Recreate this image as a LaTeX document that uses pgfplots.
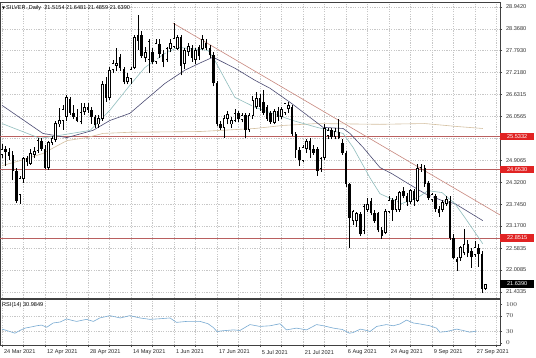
\documentclass[border=0pt]{standalone}
\usepackage{pgfplots}
\pgfplotsset{compat=1.18}
\usepackage{pgfplotstable}
\usepackage{fontspec}
\setmainfont{Liberation Sans}
\newfontfamily\sym{DejaVu Sans}
\definecolor{lvl}{RGB}{185,95,95}
\definecolor{trend}{RGB}{200,135,125}
\definecolor{navyma}{RGB}{75,75,115}
\definecolor{tealma}{RGB}{145,190,190}
\definecolor{tanma}{RGB}{212,192,160}
\definecolor{rsic}{RGB}{120,170,210}
\definecolor{lblred}{RGB}{225,35,35}
\newcommand{\tf}{\fontsize{5.6}{6.2}\selectfont}

\pgfplotstableread{
i o h l c
0 25.05 25.34 24.95 25.20
1 25.20 25.28 24.75 25.12
2 25.12 25.22 24.90 25.02
3 25.05 25.15 24.37 24.63
4 24.63 24.70 23.78 23.84
5 23.98 24.50 23.76 24.42
6 24.42 25.00 24.30 24.95
7 24.95 25.02 24.75 24.85
8 24.82 25.20 24.78 25.10
9 25.05 25.25 24.95 25.14
10 25.16 25.50 25.10 25.42
11 25.42 25.50 25.15 25.21
12 25.21 25.30 24.68 24.71
13 24.71 25.42 24.65 25.37
14 25.37 25.55 25.30 25.48
15 25.45 25.95 25.38 25.87
16 25.85 26.27 25.77 25.95
17 25.95 26.35 25.70 26.25
18 26.05 26.61 25.95 26.56
19 26.53 26.58 26.10 26.16
20 26.16 26.35 25.98 26.05
21 26.05 26.25 25.90 25.95
22 25.92 26.40 25.85 26.17
23 26.17 26.40 26.10 26.30
24 26.30 26.40 26.15 26.22
25 26.22 26.30 25.87 26.03
26 26.05 26.10 25.75 25.82
27 25.85 26.10 25.75 26.00
28 26.00 27.00 25.95 26.90
29 26.90 27.10 26.45 26.55
30 26.55 27.35 26.50 27.28
31 27.28 27.55 27.20 27.45
32 27.40 27.86 27.25 27.46
33 27.62 27.70 27.25 27.33
34 27.30 27.35 26.90 26.96
35 26.96 27.20 26.90 27.10
36 27.05 27.35 26.90 27.30
37 27.35 28.20 27.30 28.15
38 28.20 28.73 27.80 28.05
39 28.20 28.30 27.60 27.66
40 27.60 27.90 27.50 27.75
41 27.55 28.10 27.20 28.05
42 27.75 27.85 27.45 27.50
43 27.50 28.10 27.45 27.98
44 27.98 28.10 27.60 27.70
45 27.70 27.80 27.35 27.50
46 27.55 27.90 27.50 27.85
47 27.85 28.10 27.75 28.00
48 27.90 28.52 27.85 28.12
49 27.85 28.20 27.80 28.15
50 28.15 28.20 27.14 27.40
51 27.45 27.85 27.30 27.80
52 27.75 28.00 27.65 27.90
53 27.85 27.95 27.50 27.60
54 27.55 27.85 27.45 27.80
55 27.90 27.95 27.55 27.65
56 27.85 28.20 27.80 28.10
57 28.00 28.10 27.80 27.85
58 27.85 27.95 27.60 27.67
59 27.67 27.75 26.85 26.93
60 26.93 27.00 25.80 25.87
61 25.87 25.95 25.70 25.75
62 25.77 26.10 25.50 26.00
63 26.00 26.20 25.85 26.12
64 25.85 26.05 25.75 25.95
65 25.95 26.25 25.90 26.15
66 26.15 26.20 25.90 25.98
67 25.98 26.15 25.90 26.08
68 26.10 26.15 25.50 25.70
69 25.70 26.15 25.65 26.10
70 26.08 26.60 26.00 26.48
71 26.30 26.70 26.25 26.55
72 26.55 26.65 26.20 26.30
73 26.45 26.75 26.10 26.15
74 26.30 26.35 25.95 26.00
75 26.15 26.20 25.87 25.90
76 25.90 26.25 25.85 26.20
77 26.20 26.30 25.95 26.05
78 26.05 26.30 26.00 26.25
79 26.15 26.42 26.10 26.40
80 26.25 26.45 26.15 26.35
81 26.30 26.35 25.55 25.60
82 25.60 25.65 24.97 25.16
83 25.16 25.25 24.76 24.90
84 24.90 25.30 24.85 25.24
85 25.20 25.45 25.10 25.40
86 25.42 25.50 24.97 25.16
87 25.20 25.30 25.05 25.10
88 25.20 25.25 24.50 24.63
89 24.68 25.00 24.60 24.95
90 24.97 25.85 24.90 25.74
91 25.55 25.75 25.45 25.70
92 25.70 25.75 25.45 25.52
93 25.52 25.75 25.45 25.68
94 25.65 26.00 25.45 25.50
95 25.37 25.45 25.05 25.10
96 25.10 25.15 24.20 24.28
97 24.28 24.30 22.59 23.39
98 23.30 23.60 23.20 23.55
99 23.30 23.55 23.15 23.50
100 23.48 23.55 22.90 22.95
101 23.04 23.75 22.95 23.70
102 23.60 23.90 23.55 23.75
103 23.84 23.90 23.45 23.50
104 23.50 23.60 23.25 23.30
105 23.50 23.55 23.00 23.05
106 23.05 23.15 22.83 22.90
107 23.00 23.62 22.95 23.57
108 23.55 23.95 23.50 23.84
109 23.85 23.92 23.31 23.60
110 23.60 23.95 23.55 23.88
111 23.60 24.10 23.55 24.05
112 24.10 24.20 23.90 23.95
113 23.95 24.05 23.70 23.80
114 23.80 24.15 23.75 24.10
115 24.10 24.15 23.70 23.85
116 23.84 24.80 23.80 24.70
117 24.70 24.80 24.60 24.72
118 24.70 24.78 24.20 24.28
119 24.30 24.35 23.85 23.92
120 23.85 24.05 23.80 24.00
121 23.95 24.00 23.55 23.62
122 23.62 23.70 23.40 23.50
123 23.60 23.85 23.55 23.80
124 23.75 23.95 23.70 23.88
125 23.84 23.95 22.80 22.86
126 22.86 22.95 22.30 22.33
127 22.30 22.35 21.98 22.22
128 22.33 22.65 22.25 22.60
129 22.45 23.10 22.40 22.70
130 22.70 22.80 22.35 22.45
131 22.50 22.60 22.07 22.35
132 22.40 22.78 22.35 22.60
133 22.60 22.70 22.10 22.43
134 22.43 22.50 21.40 21.51
135 21.5154 21.6481 21.4859 21.6390
}\candles

\begin{document}
\begin{tikzpicture}
\fill[white] (0pt,0pt) rectangle (536pt,357pt);
\begin{axis}[
  at={(0pt,59pt)}, anchor=south west,
  width=500pt, height=296pt, scale only axis,
  xmin=-0.56, xmax=139, ymin=21.27, ymax=29.075,
  axis line style={black!75, line width=0.7pt},
  xtick={0,6,...,138}, xticklabels={}, xmajorgrids, xtick style={draw=none},
  ytick={21.4335,22.0085,22.5835,23.17,23.745,24.32,24.9065,25.4815,26.0565,26.6315,27.218,27.793,28.368,28.942},
  yticklabels={21.4335,22.0085,22.5835,23.1700,23.7450,24.3200,24.9065,,26.0565,26.6315,27.2180,27.7930,28.3680,28.9420},
  ytick pos=right, yticklabel pos=right, ymajorgrids,
  tick align=outside, major tick length=2pt, ytick style={black!70, line width=0.4pt},
  grid style={black!22, dash pattern=on 1.2pt off 1.2pt, line width=0.4pt},
  yticklabel style={font=\tf, text=black!80, xshift=0.5pt},
  clip mode=individual,
]
% horizontal levels
\addplot[lvl, line width=0.7pt] coordinates {(-0.56,25.5332) (139,25.5332)};
\addplot[lvl, line width=0.7pt] coordinates {(-0.56,24.6530) (139,24.6530)};
\addplot[lvl, line width=0.7pt] coordinates {(-0.56,22.8515) (139,22.8515)};
% trend line
\addplot[trend, line width=0.6pt] coordinates {(47.7,28.52) (139,23.46)};
% long MA
\addplot[tanma, line width=0.6pt] coordinates {(0,24.76) (5,24.89) (11.4,25.08) (18.1,25.42) (23.7,25.50) (28.2,25.61) (35.7,25.64) (55.3,25.66) (70.6,25.74) (78.4,25.82) (87.9,25.87) (105.5,25.85) (118,25.87) (127.3,25.79) (134.2,25.74)};
% slow MA
\addplot[navyma, line width=0.6pt] coordinates {(0,26.35) (11.4,25.61) (18.1,25.50) (25.4,25.69) (30.1,25.95) (35.7,26.14) (39.9,26.48) (45.5,26.93) (51.1,27.28) (55.8,27.49) (58.9,27.62) (65,27.33) (70.6,27.01) (74.8,26.80) (80.4,26.43) (86,26.03) (89.6,25.77) (95.2,25.74) (97.1,25.61) (100.8,25.24) (105.5,24.71) (108.8,24.55) (113.3,24.29) (118.1,24.02) (122.8,23.84) (126.4,23.76) (134.2,23.31)};
% fast MA
\addplot[tealma, line width=0.6pt] coordinates {(0,25.87) (10.6,25.48) (16.2,25.56) (24.6,25.69) (30.1,26.22) (35.7,26.88) (39.9,27.35) (45.5,27.72) (49.1,27.88) (57.5,27.80) (58.9,27.62) (65,26.56) (70.6,26.30) (74.8,26.16) (81.2,25.95) (87.9,25.77) (95.2,25.61) (98,25.24) (102.7,24.44) (105.5,24.02) (111.6,23.76) (116.1,23.92) (118.9,24.10) (122.8,24.05) (126.4,23.76) (129.2,23.39) (134.2,22.70)};
% wicks
\addplot[black, mark=none, line width=0.6pt, -,
  quiver={u=0, v=\thisrow{h}-\thisrow{l}, scale arrows=1}]
  table[x=i, y=l] {\candles};
% bearish bodies
\addplot[black, mark=none, line width=2.5pt, -,
  restrict expr to domain={\thisrow{o}-\thisrow{c}}{0.0001:100},
  quiver={u=0, v=\thisrow{o}-\thisrow{c}, scale arrows=1}]
  table[x=i, y=c] {\candles};
% bullish bodies: outline then white inner
\addplot[black, mark=none, line width=2.5pt, -,
  restrict expr to domain={\thisrow{c}-\thisrow{o}}{0:100},
  quiver={u=0, v=\thisrow{c}-\thisrow{o}+0.01, scale arrows=1}]
  table[x=i, y expr=\thisrow{o}-0.005] {\candles};
\addplot[white, mark=none, line width=1.2pt, -,
  restrict expr to domain={\thisrow{c}-\thisrow{o}}{0.05:100},
  quiver={u=0, v=\thisrow{c}-\thisrow{o}-0.04, scale arrows=1}]
  table[x=i, y expr=\thisrow{o}+0.02] {\candles};
% labels on the price scale
\node[fill=lblred, text=white, font=\tf, anchor=west, inner sep=0.8pt, minimum height=7.5pt, minimum width=34pt] at (axis cs:139,25.5332) {25.5332};
\node[fill=lblred, text=white, font=\tf, anchor=west, inner sep=0.8pt, minimum height=7.5pt, minimum width=34pt] at (axis cs:139,24.6530) {24.6530};
\node[fill=lblred, text=white, font=\tf, anchor=west, inner sep=0.8pt, minimum height=7.5pt, minimum width=34pt] at (axis cs:139,22.8515) {22.8515};
\node[fill=black, text=white, font=\tf, anchor=west, inner sep=0.8pt, minimum height=7.5pt, minimum width=34pt] at (axis cs:139,21.6390) {21.6390};
\node[anchor=north west, font=\tf, inner sep=0pt] at ([xshift=2pt,yshift=-3pt]rel axis cs:0,1) {{\sym\fontsize{4}{4}\selectfont ▼}\,SILVER.,Daily~~21.5154 21.6481 21.4859 21.6390};
\end{axis}

\begin{axis}[
  at={(0pt,12pt)}, anchor=south west,
  width=500pt, height=45.5pt, scale only axis,
  xmin=-0.56, xmax=139, ymin=-5.3, ymax=113,
  axis line style={black!75, line width=0.7pt},
  xtick={0,6,...,138},
  xticklabels={24 Mar 2021,,12 Apr 2021,,28 Apr 2021,,14 May 2021,,1 Jun 2021,,17 Jun 2021,,5 Jul 2021,,21 Jul 2021,,6 Aug 2021,,24 Aug 2021,,9 Sep 2021,,27 Sep 2021,},
  xtick pos=bottom, xmajorgrids,
  xticklabel style={font=\tf, anchor=north west, xshift=-1.5pt, yshift=0.5pt, text=black!85},
  ytick={30,70}, extra y ticks={0,100}, extra y tick style={grid=none},
  ytick pos=right, yticklabel pos=right, ymajorgrids,
  tick align=outside, major tick length=2pt, tick style={black!70, line width=0.4pt},
  grid style={black!22, dash pattern=on 1.2pt off 1.2pt, line width=0.4pt},
  yticklabel style={font=\tf, text=black!80, xshift=0.5pt},
  clip mode=individual,
]
\addplot[rsic, line width=0.6pt] coordinates {(0,36) (1.3,32.5) (3.6,25.4) (5,32.5) (6.4,38.6) (7.8,41) (9.7,44.7) (11,46.5) (12.5,41) (14.3,52) (16.2,54.4) (18,62.3) (20.8,56) (23.6,61.4) (25.5,56) (27.3,65) (30.1,71) (33,65) (35.7,71) (38.5,65) (41.3,61.4) (44.1,63) (46.9,65) (48.7,53.5) (51.5,56) (55.3,56) (57.5,50) (59,40) (60,29.8) (61.5,31.6) (64.6,34) (66.4,32.5) (69.2,47.8) (72,43) (74.8,44.7) (77.6,50) (79.4,34) (82.2,38.6) (85,34) (87.8,47.8) (89.7,44.7) (92.5,38.6) (95,35) (96,30) (97,25.4) (98,27) (100,36) (101.8,32.5) (102.7,29.8) (104.6,43) (107.3,47.8) (109.2,44.7) (111.1,49.5) (112.9,59.5) (114.8,52) (116.6,49.5) (119.4,44.7) (121.3,38.6) (122.2,28) (124.1,29.8) (126.9,36) (128.7,32.5) (130.6,28) (132.5,31)};
\node[anchor=north west, font=\tf, inner sep=0pt] at ([xshift=2pt,yshift=-3pt]rel axis cs:0,1) {RSI(14) 30.9849};
\end{axis}
\pgfresetboundingbox
\path[use as bounding box] (0pt,0pt) rectangle (536pt,357pt);
\end{tikzpicture}
\end{document}
